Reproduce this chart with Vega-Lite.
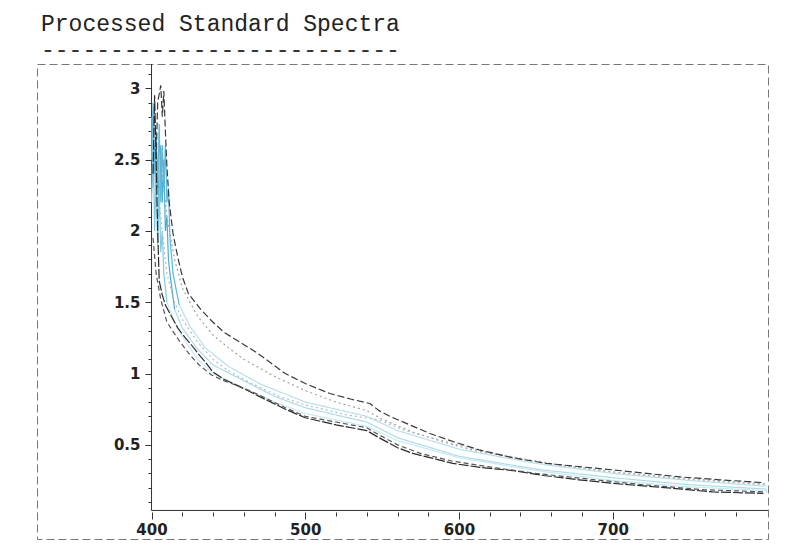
{
  "$schema": "https://vega.github.io/schema/vega-lite/v6.json",
  "autosize": "none",
  "padding": {"left": 37, "top": 64, "right": 26, "bottom": 10},
  "width": 731,
  "height": 475,
  "background": "white",
  "title": {
    "text": "Processed Standard Spectra",
    "subtitle": "--------------------------",
    "anchor": "start",
    "frame": "group",
    "font": "Liberation Mono",
    "fontSize": 23,
    "fontWeight": "normal",
    "color": "#222",
    "subtitleFont": "Liberation Mono",
    "subtitleFontSize": 23,
    "subtitleColor": "#333",
    "subtitlePadding": 3,
    "offset": 2,
    "dx": 4
  },
  "config": {
    "view": {"stroke": "#777", "strokeWidth": 1, "strokeDash": [8, 4]},
    "axis": {"grid": false, "domain": false, "title": null, "tickColor": "#333", "labelColor": "#222", "labelFont": "DejaVu Sans", "labelFontWeight": "bold", "labelFontSize": 15}
  },
  "datasets": {
    "curves": [
      {"s": "c1a", "x": 400, "y": 2.8}, {"s": "c1a", "x": 401, "y": 2.3}, {"s": "c1a", "x": 402, "y": 2.6}, {"s": "c1a", "x": 403, "y": 2.2}, {"s": "c1a", "x": 404, "y": 2.5}, {"s": "c1a", "x": 405, "y": 2.1}, {"s": "c1a", "x": 406, "y": 2.6}, {"s": "c1a", "x": 407, "y": 2.2}, {"s": "c1a", "x": 408, "y": 2.5}, {"s": "c1a", "x": 409, "y": 2.0}, {"s": "c1a", "x": 410, "y": 2.1}, {"s": "c1a", "x": 411, "y": 1.8}, {"s": "c1a", "x": 412, "y": 1.7}, {"s": "c1a", "x": 415, "y": 1.45},
      {"s": "c1b", "x": 415, "y": 1.45}, {"s": "c1b", "x": 420, "y": 1.32}, {"s": "c1b", "x": 430, "y": 1.17}, {"s": "c1b", "x": 440, "y": 1.06}, {"s": "c1b", "x": 460, "y": 0.95}, {"s": "c1b", "x": 480, "y": 0.84}, {"s": "c1b", "x": 500, "y": 0.76}, {"s": "c1b", "x": 540, "y": 0.66}, {"s": "c1b", "x": 560, "y": 0.55}, {"s": "c1b", "x": 600, "y": 0.42}, {"s": "c1b", "x": 650, "y": 0.33}, {"s": "c1b", "x": 700, "y": 0.27}, {"s": "c1b", "x": 750, "y": 0.22}, {"s": "c1b", "x": 800, "y": 0.19},
      {"s": "c2a", "x": 400, "y": 2.5}, {"s": "c2a", "x": 401, "y": 2.9}, {"s": "c2a", "x": 402, "y": 2.4}, {"s": "c2a", "x": 403, "y": 2.7}, {"s": "c2a", "x": 404, "y": 2.3}, {"s": "c2a", "x": 405, "y": 2.75}, {"s": "c2a", "x": 406, "y": 2.2}, {"s": "c2a", "x": 407, "y": 2.6}, {"s": "c2a", "x": 408, "y": 2.3}, {"s": "c2a", "x": 409, "y": 2.6}, {"s": "c2a", "x": 410, "y": 2.2}, {"s": "c2a", "x": 411, "y": 2.3}, {"s": "c2a", "x": 412, "y": 1.95}, {"s": "c2a", "x": 414, "y": 1.7}, {"s": "c2a", "x": 418, "y": 1.48},
      {"s": "c2b", "x": 418, "y": 1.48}, {"s": "c2b", "x": 425, "y": 1.33}, {"s": "c2b", "x": 435, "y": 1.18}, {"s": "c2b", "x": 450, "y": 1.05}, {"s": "c2b", "x": 470, "y": 0.93}, {"s": "c2b", "x": 500, "y": 0.8}, {"s": "c2b", "x": 540, "y": 0.7}, {"s": "c2b", "x": 560, "y": 0.6}, {"s": "c2b", "x": 600, "y": 0.47}, {"s": "c2b", "x": 650, "y": 0.37}, {"s": "c2b", "x": 700, "y": 0.3}, {"s": "c2b", "x": 750, "y": 0.25}, {"s": "c2b", "x": 800, "y": 0.21},
      {"s": "c3a", "x": 400, "y": 2.2}, {"s": "c3a", "x": 401, "y": 2.7}, {"s": "c3a", "x": 402, "y": 2.0}, {"s": "c3a", "x": 403, "y": 2.4}, {"s": "c3a", "x": 404, "y": 1.9}, {"s": "c3a", "x": 405, "y": 2.3}, {"s": "c3a", "x": 406, "y": 1.85}, {"s": "c3a", "x": 407, "y": 2.0}, {"s": "c3a", "x": 408, "y": 1.7}, {"s": "c3a", "x": 410, "y": 1.5},
      {"s": "c3b", "x": 410, "y": 1.5}, {"s": "c3b", "x": 415, "y": 1.36}, {"s": "c3b", "x": 420, "y": 1.26}, {"s": "c3b", "x": 430, "y": 1.1}, {"s": "c3b", "x": 440, "y": 1.0}, {"s": "c3b", "x": 460, "y": 0.9}, {"s": "c3b", "x": 480, "y": 0.8}, {"s": "c3b", "x": 500, "y": 0.72}, {"s": "c3b", "x": 540, "y": 0.63}, {"s": "c3b", "x": 560, "y": 0.53}, {"s": "c3b", "x": 600, "y": 0.41}, {"s": "c3b", "x": 650, "y": 0.32}, {"s": "c3b", "x": 700, "y": 0.25}, {"s": "c3b", "x": 750, "y": 0.205}, {"s": "c3b", "x": 800, "y": 0.18},
      {"s": "g1", "x": 405, "y": 2.6}, {"s": "g1", "x": 410, "y": 2.1}, {"s": "g1", "x": 415, "y": 1.8}, {"s": "g1", "x": 420, "y": 1.6}, {"s": "g1", "x": 430, "y": 1.4}, {"s": "g1", "x": 440, "y": 1.27}, {"s": "g1", "x": 450, "y": 1.18}, {"s": "g1", "x": 460, "y": 1.1}, {"s": "g1", "x": 480, "y": 0.98}, {"s": "g1", "x": 500, "y": 0.88}, {"s": "g1", "x": 520, "y": 0.8}, {"s": "g1", "x": 540, "y": 0.74}, {"s": "g1", "x": 550, "y": 0.68}, {"s": "g1", "x": 570, "y": 0.59}, {"s": "g1", "x": 590, "y": 0.52}, {"s": "g1", "x": 610, "y": 0.46}, {"s": "g1", "x": 640, "y": 0.4}, {"s": "g1", "x": 670, "y": 0.35}, {"s": "g1", "x": 700, "y": 0.31}, {"s": "g1", "x": 740, "y": 0.27}, {"s": "g1", "x": 800, "y": 0.225},
      {"s": "g2", "x": 405, "y": 2.2}, {"s": "g2", "x": 410, "y": 1.7}, {"s": "g2", "x": 415, "y": 1.5}, {"s": "g2", "x": 420, "y": 1.38}, {"s": "g2", "x": 430, "y": 1.22}, {"s": "g2", "x": 440, "y": 1.1}, {"s": "g2", "x": 450, "y": 1.02}, {"s": "g2", "x": 465, "y": 0.93}, {"s": "g2", "x": 483, "y": 0.84}, {"s": "g2", "x": 500, "y": 0.78}, {"s": "g2", "x": 527, "y": 0.71}, {"s": "g2", "x": 548, "y": 0.675}, {"s": "g2", "x": 565, "y": 0.6}, {"s": "g2", "x": 587, "y": 0.535}, {"s": "g2", "x": 610, "y": 0.47}, {"s": "g2", "x": 635, "y": 0.415}, {"s": "g2", "x": 665, "y": 0.36}, {"s": "g2", "x": 700, "y": 0.31}, {"s": "g2", "x": 740, "y": 0.265}, {"s": "g2", "x": 800, "y": 0.22},
      {"s": "u", "x": 403, "y": 2.5}, {"s": "u", "x": 404, "y": 2.9}, {"s": "u", "x": 406, "y": 3.02}, {"s": "u", "x": 407, "y": 2.8}, {"s": "u", "x": 408, "y": 2.98}, {"s": "u", "x": 409, "y": 2.7}, {"s": "u", "x": 410, "y": 2.45}, {"s": "u", "x": 411.5, "y": 2.2}, {"s": "u", "x": 414, "y": 1.98}, {"s": "u", "x": 417, "y": 1.82}, {"s": "u", "x": 420, "y": 1.68}, {"s": "u", "x": 424, "y": 1.56}, {"s": "u", "x": 432, "y": 1.45}, {"s": "u", "x": 439, "y": 1.37}, {"s": "u", "x": 447, "y": 1.29}, {"s": "u", "x": 456, "y": 1.23}, {"s": "u", "x": 468, "y": 1.15}, {"s": "u", "x": 487, "y": 1.0}, {"s": "u", "x": 500, "y": 0.93}, {"s": "u", "x": 516, "y": 0.86}, {"s": "u", "x": 530, "y": 0.82}, {"s": "u", "x": 542, "y": 0.79}, {"s": "u", "x": 548, "y": 0.74}, {"s": "u", "x": 555, "y": 0.7}, {"s": "u", "x": 568, "y": 0.64}, {"s": "u", "x": 581, "y": 0.58}, {"s": "u", "x": 597, "y": 0.52}, {"s": "u", "x": 613, "y": 0.465}, {"s": "u", "x": 635, "y": 0.41}, {"s": "u", "x": 657, "y": 0.37}, {"s": "u", "x": 680, "y": 0.345}, {"s": "u", "x": 700, "y": 0.325}, {"s": "u", "x": 722, "y": 0.3}, {"s": "u", "x": 744, "y": 0.275}, {"s": "u", "x": 770, "y": 0.255}, {"s": "u", "x": 798, "y": 0.235},
      {"s": "l1", "x": 401, "y": 2.4}, {"s": "l1", "x": 402, "y": 2.95}, {"s": "l1", "x": 403, "y": 2.5}, {"s": "l1", "x": 404, "y": 2.0}, {"s": "l1", "x": 405, "y": 1.65}, {"s": "l1", "x": 407, "y": 1.55}, {"s": "l1", "x": 409, "y": 1.48}, {"s": "l1", "x": 413, "y": 1.4}, {"s": "l1", "x": 417, "y": 1.32}, {"s": "l1", "x": 422, "y": 1.25}, {"s": "l1", "x": 426, "y": 1.2}, {"s": "l1", "x": 431, "y": 1.13}, {"s": "l1", "x": 435, "y": 1.08}, {"s": "l1", "x": 440, "y": 1.01}, {"s": "l1", "x": 447, "y": 0.96}, {"s": "l1", "x": 457, "y": 0.91}, {"s": "l1", "x": 470, "y": 0.84}, {"s": "l1", "x": 487, "y": 0.75}, {"s": "l1", "x": 500, "y": 0.69}, {"s": "l1", "x": 520, "y": 0.64}, {"s": "l1", "x": 540, "y": 0.6}, {"s": "l1", "x": 548, "y": 0.55}, {"s": "l1", "x": 560, "y": 0.48}, {"s": "l1", "x": 570, "y": 0.44}, {"s": "l1", "x": 585, "y": 0.4}, {"s": "l1", "x": 596, "y": 0.37}, {"s": "l1", "x": 615, "y": 0.34}, {"s": "l1", "x": 635, "y": 0.32}, {"s": "l1", "x": 655, "y": 0.285}, {"s": "l1", "x": 678, "y": 0.255}, {"s": "l1", "x": 700, "y": 0.23}, {"s": "l1", "x": 722, "y": 0.21}, {"s": "l1", "x": 745, "y": 0.19}, {"s": "l1", "x": 765, "y": 0.17}, {"s": "l1", "x": 798, "y": 0.16},
      {"s": "l2", "x": 401, "y": 1.95}, {"s": "l2", "x": 403, "y": 1.7}, {"s": "l2", "x": 406, "y": 1.52}, {"s": "l2", "x": 410, "y": 1.36}, {"s": "l2", "x": 418, "y": 1.23}, {"s": "l2", "x": 425, "y": 1.13}, {"s": "l2", "x": 431, "y": 1.06}, {"s": "l2", "x": 439, "y": 0.99}, {"s": "l2", "x": 447, "y": 0.95}, {"s": "l2", "x": 457, "y": 0.91}, {"s": "l2", "x": 470, "y": 0.85}, {"s": "l2", "x": 487, "y": 0.76}, {"s": "l2", "x": 500, "y": 0.7}, {"s": "l2", "x": 520, "y": 0.66}, {"s": "l2", "x": 540, "y": 0.62}, {"s": "l2", "x": 548, "y": 0.57}, {"s": "l2", "x": 560, "y": 0.5}, {"s": "l2", "x": 575, "y": 0.44}, {"s": "l2", "x": 596, "y": 0.385}, {"s": "l2", "x": 620, "y": 0.345}, {"s": "l2", "x": 650, "y": 0.3}, {"s": "l2", "x": 680, "y": 0.265}, {"s": "l2", "x": 720, "y": 0.22}, {"s": "l2", "x": 760, "y": 0.185}, {"s": "l2", "x": 800, "y": 0.17}
    ],
    "axislines": [
      {"x": 400, "x2": 400, "y": 0.04, "y2": 3.17},
      {"x": 400, "x2": 801, "y": 0.04, "y2": 0.04}
    ]
  },
  "resolve": {"axis": {"x": "independent", "y": "independent"}},
  "layer": [
    {
      "data": {"name": "axislines"},
      "mark": {"type": "rule", "color": "#333", "strokeWidth": 1},
      "encoding": {
        "x": {"field": "x", "type": "quantitative", "scale": {"domain": [325.5, 801], "nice": false, "zero": false}, "axis": {"orient": "bottom", "offset": -27, "values": [400, 500, 600, 700], "tickSize": 7, "labelPadding": 3, "format": "d"}},
        "x2": {"field": "x2"},
        "y": {"field": "y", "type": "quantitative", "scale": {"domain": [-0.16, 3.17], "nice": false, "zero": false}, "axis": {"orient": "left", "offset": -114, "values": [0.5, 1, 1.5, 2, 2.5, 3], "tickSize": 6, "labelPadding": 5, "format": "~g"}},
        "y2": {"field": "y2"}
      }
    },
    {
      "data": {"name": "curves"},
      "mark": {"type": "line", "strokeWidth": 1.2},
      "encoding": {
        "x": {"field": "x", "type": "quantitative", "axis": {"orient": "bottom", "offset": -27, "values": [420, 440, 460, 480, 520, 540, 560, 580, 620, 640, 660, 680, 720, 740, 760, 780], "tickSize": 4, "labels": false}},
        "y": {"field": "y", "type": "quantitative", "axis": {"orient": "left", "offset": -114, "values": [0.1, 0.2, 0.3, 0.4, 0.6, 0.7, 0.8, 0.9, 1.1, 1.2, 1.3, 1.4, 1.6, 1.7, 1.8, 1.9, 2.1, 2.2, 2.3, 2.4, 2.6, 2.7, 2.8, 2.9, 3.1], "tickSize": 3, "labels": false}},
        "detail": {"field": "s"},
        "color": {"field": "s", "type": "nominal", "legend": null, "sort": ["c3b", "c2b", "c1b", "c3a", "c2a", "c1a", "g2", "g1", "l2", "u", "l1"], "scale": {"domain": ["c3b", "c2b", "c1b", "c3a", "c2a", "c1a", "g2", "g1", "l2", "u", "l1"], "range": ["#c6eaf3", "#b3e1ee", "#a9dcec", "#7fcbe3", "#5ab9dc", "#48acd4", "#b8b8b8", "#a0a0a0", "#555555", "#3a3a3a", "#2a2a2a"]}},
        "strokeDash": {"field": "s", "type": "nominal", "legend": null, "scale": {"domain": ["c3b", "c2b", "c1b", "c3a", "c2a", "c1a", "g2", "g1", "l2", "u", "l1"], "range": [[1, 0], [1, 0], [1, 0], [1, 0], [1, 0], [1, 0], [2, 3], [2, 3], [5, 3], [7, 3], [10, 2]]}},
        "order": {"field": "x", "type": "quantitative"}
      }
    }
  ]
}
